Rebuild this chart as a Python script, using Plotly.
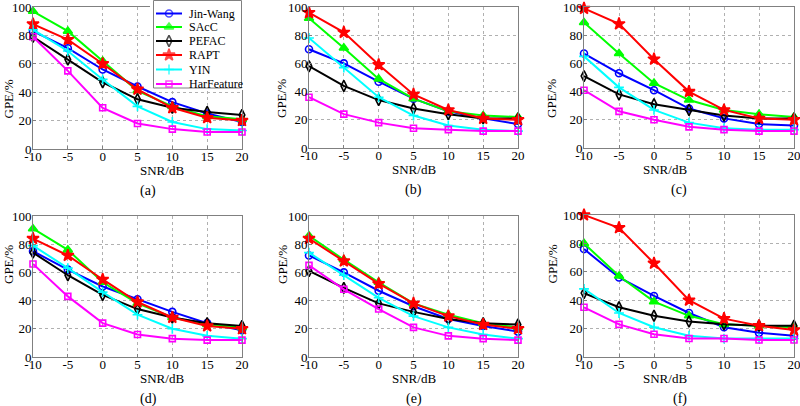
import plotly.graph_objects as go

snr = [-10, -5, 0, 5, 10, 15, 20]
methods = ["Jin-Wang", "SAcC", "PEFAC", "RAPT", "YIN", "HarFeature"]
panel_labels = ["(a)", "(b)", "(c)", "(d)", "(e)", "(f)"]
y_ticks = [0, 20, 40, 60, 80, 100]
x_ticks = [-10, -5, 0, 5, 10, 15, 20]
x_tick_labels = ["-10", "-5", "0", "5", "10", "15", "20"]

gpe_a = {
    "Jin-Wang":   [83, 71, 56, 44, 33, 25, 19],
    "SAcC":       [97, 83, 62, 41, 30, 23, 21],
    "PEFAC":      [79, 63, 47, 35, 29, 26, 24],
    "RAPT":       [88, 77, 60, 42, 29, 22, 20],
    "YIN":        [84, 69, 49, 30, 19, 14, 13],
    "HarFeature": [79, 55, 29, 18, 14, 12, 12],
}
gpe_b = {
    "Jin-Wang":   [70, 60, 47, 35, 26, 21, 17],
    "SAcC":       [92, 71, 49, 35, 26, 23, 22],
    "PEFAC":      [58, 44, 34, 28, 24, 21, 21],
    "RAPT":       [96, 82, 59, 38, 27, 21, 20],
    "YIN":        [78, 57, 36, 23, 16, 13, 12],
    "HarFeature": [36, 24, 18, 14, 13, 12, 12],
}
gpe_c = {
    "Jin-Wang":   [67, 53, 41, 28, 21, 17, 16],
    "SAcC":       [89, 67, 46, 34, 27, 24, 22],
    "PEFAC":      [51, 38, 31, 27, 23, 21, 21],
    "RAPT":       [99, 88, 63, 40, 27, 21, 20],
    "YIN":        [65, 43, 27, 18, 14, 13, 13],
    "HarFeature": [41, 26, 20, 15, 13, 12, 12],
}
gpe_d = {
    "Jin-Wang":   [75, 62, 50, 41, 32, 24, 19],
    "SAcC":       [91, 76, 53, 38, 28, 23, 21],
    "PEFAC":      [74, 58, 44, 34, 28, 24, 22],
    "RAPT":       [84, 72, 55, 39, 28, 22, 20],
    "YIN":        [79, 63, 46, 30, 20, 15, 13],
    "HarFeature": [66, 43, 24, 16, 13, 12, 12],
}
gpe_e = {
    "Jin-Wang":   [72, 60, 47, 36, 27, 22, 18],
    "SAcC":       [86, 69, 53, 38, 30, 24, 21],
    "PEFAC":      [61, 49, 38, 32, 27, 24, 23],
    "RAPT":       [84, 68, 52, 38, 29, 23, 20],
    "YIN":        [74, 58, 42, 29, 21, 16, 13],
    "HarFeature": [65, 48, 34, 21, 15, 13, 12],
}
gpe_f = {
    "Jin-Wang":   [76, 56, 43, 31, 21, 17, 15],
    "SAcC":       [80, 57, 39, 29, 23, 22, 21],
    "PEFAC":      [45, 35, 29, 25, 23, 22, 22],
    "RAPT":       [100, 91, 66, 40, 27, 22, 19],
    "YIN":        [48, 31, 21, 15, 13, 13, 13],
    "HarFeature": [35, 23, 16, 13, 13, 12, 12],
}
panels = [gpe_a, gpe_b, gpe_c, gpe_d, gpe_e, gpe_f]

styles = {
    "Jin-Wang":   dict(color="#0000FF", symbol="circle-open", size=7),
    "SAcC":       dict(color="#00FF00", symbol="triangle-up", size=8),
    "PEFAC":      dict(color="#000000", symbol="diamond-tall-open", size=8),
    "RAPT":       dict(color="#FF0000", symbol="star", size=9),
    "YIN":        dict(color="#00FFFF", symbol="cross-thin-open", size=7),
    "HarFeature": dict(color="#FF00FF", symbol="square-open", size=6),
}

W, H = 800, 406
# page-pixel boxes (left, right, top, bottom)
boxes = [
    (33, 242, 7, 149), (309, 518, 7, 148), (584, 794, 7, 148),
    (33, 242, 216, 357), (309, 518, 216, 357), (584, 794, 215, 357),
]
ytitle_x = [8, 282, 552]
font_family = "Liberation Serif, Times New Roman, serif"
grey = "#808080"

fig = go.Figure()

for i, (data, box) in enumerate(zip(panels, boxes)):
    n = "" if i == 0 else str(i + 1)
    xa, ya = "x" + n, "y" + n
    l, r, t, b = box
    for m in methods:
        st = styles[m]
        fig.add_trace(go.Scatter(
            x=snr, y=data[m], mode="lines+markers", name=m,
            xaxis=xa, yaxis=ya, showlegend=False, cliponaxis=False,
            line=dict(color=st["color"], width=2),
            marker=dict(symbol=st["symbol"], size=st["size"], color=st["color"],
                        line=dict(color=st["color"], width=1.6)),
        ))
    axis_common = dict(
        showline=True, mirror=True, linecolor=grey, linewidth=1,
        showgrid=True, gridcolor="#b0b0b0", griddash="dot", gridwidth=1,
        ticks="inside", ticklen=3, tickcolor=grey, zeroline=False,
        tickfont=dict(family=font_family, size=13, color="#000"),
        automargin=False, ticklabeloverflow="allow", fixedrange=True,
    )
    fig.layout["xaxis" + n] = dict(
        domain=[l / W, r / W], anchor=ya, range=[-10, 20],
        tickvals=x_ticks, ticktext=x_tick_labels, ticklabelstandoff=-5,
        **axis_common)
    fig.layout["yaxis" + n] = dict(
        domain=[1 - b / H, 1 - t / H], anchor=xa, range=[0, 100],
        tickvals=y_ticks, ticklabelstandoff=-2, **axis_common)
    cx = (l + r) / 2 / W
    fig.add_annotation(text="SNR/dB", xref="paper", yref="paper", x=cx,
                       y=1 - (b + 21) / H, showarrow=False, yanchor="middle",
                       font=dict(family=font_family, size=13, color="#000"))
    fig.add_annotation(text=panel_labels[i], xref="paper", yref="paper", x=cx,
                       y=1 - (b + 42) / H, showarrow=False, yanchor="middle",
                       font=dict(family=font_family, size=14, color="#000"))
    fig.add_annotation(text="GPE/%", xref="paper", yref="paper",
                       x=ytitle_x[i % 3] / W, y=1 - (t + b) / 2 / H,
                       textangle=-90, showarrow=False, xanchor="center",
                       font=dict(family=font_family, size=13, color="#000"))

# ---- legend drawn as its own small subplot (pixel-unit axes) ----
leg_l, leg_r, leg_t, leg_b = 150, 244, 0, 90
box_l, box_r, box_t, box_b = 153.5, 241.5, 0.5, 88
row_y = [13.5, 27, 41, 55, 69.5, 84]
fig.layout["xaxis7"] = dict(domain=[leg_l / W, leg_r / W], anchor="y7",
                            range=[leg_l, leg_r], visible=False, fixedrange=True)
fig.layout["yaxis7"] = dict(domain=[1 - leg_b / H, 1 - leg_t / H], anchor="x7",
                            range=[leg_b, leg_t], visible=False, fixedrange=True)
fig.add_trace(go.Scatter(
    x=[box_l, box_r, box_r, box_l, box_l], y=[box_t, box_t, box_b, box_b, box_t],
    mode="lines", fill="toself", fillcolor="white",
    line=dict(color=grey, width=1), xaxis="x7", yaxis="y7",
    showlegend=False, hoverinfo="skip"))
for m, ry in zip(methods, row_y):
    st = styles[m]
    fig.add_trace(go.Scatter(
        x=[156, 169, 182], y=[ry, ry, ry], mode="lines+markers",
        xaxis="x7", yaxis="y7", showlegend=False, hoverinfo="skip",
        line=dict(color=st["color"], width=2),
        marker=dict(symbol=st["symbol"], size=[0, st["size"], 0],
                    color=st["color"], line=dict(color=st["color"], width=1.6)),
    ))
    fig.add_annotation(text=m, xref="x7", yref="y7", x=187, y=ry,
                       xanchor="left", yanchor="middle", showarrow=False,
                       font=dict(family=font_family, size=12, color="#000"))

fig.update_layout(
    width=W, height=H, margin=dict(l=0, r=0, t=0, b=0, autoexpand=False),
    paper_bgcolor="white", plot_bgcolor="white", showlegend=False,
)

fig.write_html("out.html", config={"displayModeBar": False},
               post_script="document.body.style.margin='0px';")
